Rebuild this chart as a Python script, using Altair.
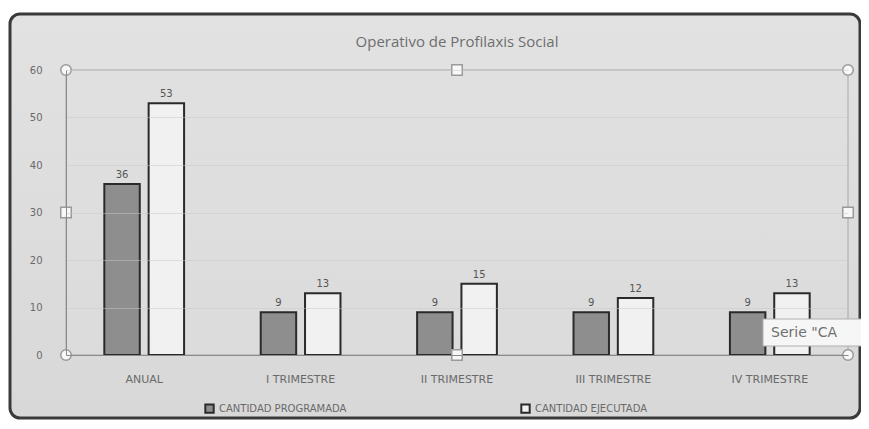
import altair as alt
import pandas as pd

categories = ["ANUAL", "I TRIMESTRE", "II TRIMESTRE", "III TRIMESTRE", "IV TRIMESTRE"]
programada = [36, 9, 9, 9, 9]
ejecutada = [53, 13, 15, 12, 13]
series_names = ["CANTIDAD PROGRAMADA", "CANTIDAD EJECUTADA"]
chart_title = "Operativo de Profilaxis Social"
tooltip_text = 'Serie "CA'

rows = []
for c, p, e in zip(categories, programada, ejecutada):
    rows.append({"cat": c, "serie": series_names[0], "valor": p})
    rows.append({"cat": c, "serie": series_names[1], "valor": e})
df = pd.DataFrame(rows)

W, H = 782, 285
PAD = {"left": 58, "top": 62, "right": 13, "bottom": 65}

one = pd.DataFrame({"a": [0]})

frame = alt.Chart(one).mark_rect(
    cornerRadius=10,
    stroke="#3a3a3a",
    strokeWidth=3,
    fill=alt.Gradient(
        gradient="linear",
        stops=[alt.GradientStop(color="#e2e2e2", offset=0),
               alt.GradientStop(color="#d8d8d8", offset=1)],
        x1=0, x2=0, y1=0, y2=1,
    ),
).encode(
    x=alt.value(-56), x2=alt.value(W + 12),
    y=alt.value(-56), y2=alt.value(H + 63),
)

plot_border = alt.Chart(one).mark_rect(fill="#e0e0e0", fillOpacity=0.35,
                                       stroke="#a8a8a8", strokeWidth=1).encode(
    x=alt.value(0), x2=alt.value(W), y=alt.value(0), y2=alt.value(H),
)

title = alt.Chart(one).mark_text(fontSize=15, color="#6e6e6e", font="Open Sans",
                                 align="center", baseline="middle").encode(
    x=alt.value(W / 2), y=alt.value(-28), text=alt.value(chart_title),
)

# selection handles of the plot area (fractions of the plot area)
handles = pd.DataFrame({
    "fx": [0, 1, 0, 1, 0.5, 0, 1, 0.5],
    "fy": [0, 0, 1, 1, 0, 0.5, 0.5, 1],
    "shape": ["circle"] * 4 + ["square"] * 4,
})
handles["px"] = handles["fx"] * W
handles["py"] = handles["fy"] * H
handle_marks = alt.Chart(handles).mark_point(filled=True, fill="#f8f8f8",
                                             stroke="#9a9a9a", strokeWidth=1.5,
                                             opacity=1).encode(
    x=alt.X("px:Q", scale=None), y=alt.Y("py:Q", scale=None),
    shape=alt.Shape("shape:N", scale=None, legend=None),
    size=alt.value(110),
)

xenc = alt.X("cat:N", sort=categories, title=None,
             scale=alt.Scale(paddingInner=0.49, paddingOuter=0.245),
             axis=alt.Axis(labelAngle=0, labelColor="#6a6a6a", labelFontSize=11,
                           labelFont="DejaVu Sans", ticks=False, domain=True,
                           domainColor="#8a8a8a", labelPadding=18, zindex=2))
xoff = alt.XOffset("serie:N", sort=series_names, scale=alt.Scale(paddingInner=0.2))
yenc = alt.Y("valor:Q", title=None,
             scale=alt.Scale(domain=[0, 60], nice=False),
             axis=alt.Axis(values=[0, 10, 20, 30, 40, 50, 60], labelColor="#6a6a6a",
                           labelFontSize=10, labelFont="DejaVu Sans", ticks=False,
                           domainColor="#8a8a8a", labelPadding=24, zindex=2,
                           grid=True, gridColor="#c8c8c8", gridOpacity=0.5))

bars = alt.Chart(df).mark_bar(stroke="#2a2a2a", strokeWidth=2).encode(
    x=xenc, xOffset=xoff, y=yenc,
    fill=alt.Fill("serie:N", sort=series_names, title=None,
                  scale=alt.Scale(domain=series_names, range=["#8e8e8e", "#f1f1f1"]),
                  legend=alt.Legend(orient="none", legendX=138, legendY=H + 48,
                                    direction="horizontal", symbolType="square",
                                    symbolSize=70, symbolStrokeColor="#2a2a2a",
                                    symbolStrokeWidth=2, labelColor="#6a6a6a",
                                    labelFontSize=10, labelFont="DejaVu Sans",
                                    columnPadding=170, labelLimit=300)),
)

labels = alt.Chart(df).mark_text(dy=-9, fontSize=10, color="#555555",
                                 font="DejaVu Sans").encode(
    x=alt.X("cat:N", sort=categories), xOffset=alt.XOffset("serie:N", sort=series_names),
    y="valor:Q", text="valor:Q",
)

tip_box = alt.Chart(one).mark_rect(fill="#f6f6f6", stroke="#b0b0b0",
                                   strokeWidth=1).encode(
    x=alt.value(697), x2=alt.value(W + 40), y=alt.value(249), y2=alt.value(276),
)
tip_text = alt.Chart(one).mark_text(fontSize=14, color="#707070", font="DejaVu Sans",
                                    align="left", baseline="middle").encode(
    x=alt.value(705), y=alt.value(263), text=alt.value(tooltip_text),
)

chart = alt.layer(frame, plot_border, title, bars, labels, handle_marks,
                  tip_box, tip_text).properties(
    width=W, height=H,
    autosize=alt.AutoSizeParams(type="none"),
    padding=PAD,
).configure_view(stroke=None).configure(background="#ffffff")

chart.save("out.html", embed_options={"renderer": "svg", "actions": False})
